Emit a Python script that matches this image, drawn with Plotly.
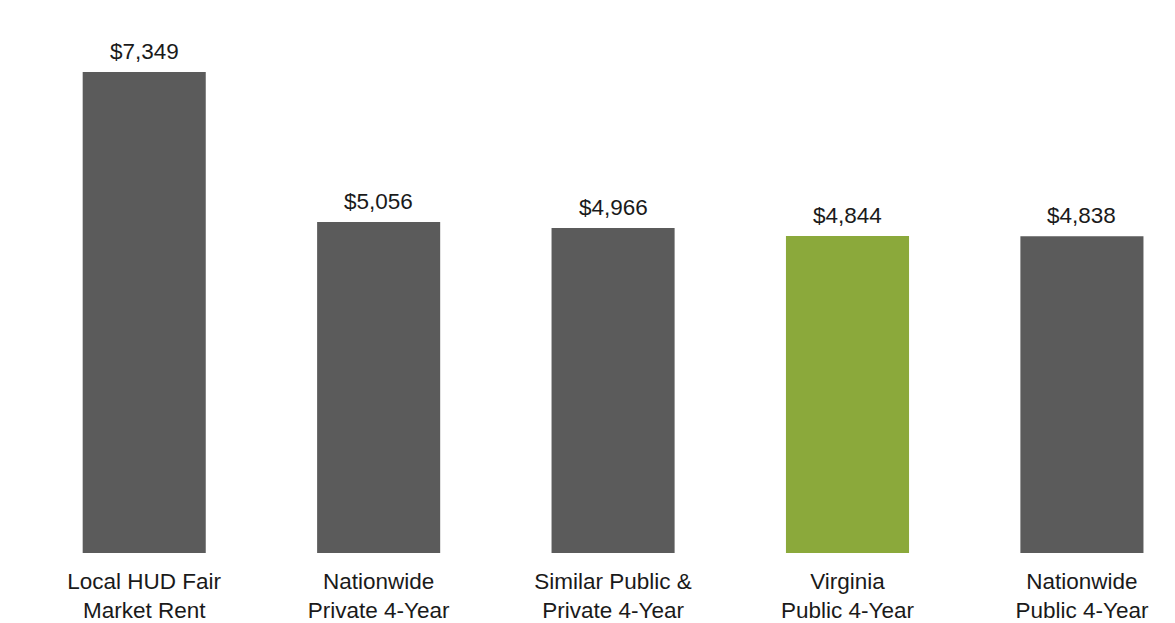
import plotly.graph_objects as go

categories = [
    "Local HUD Fair<br>Market Rent",
    "Nationwide<br>Private 4-Year",
    "Similar Public &<br>Private 4-Year",
    "Virginia<br>Public 4-Year",
    "Nationwide<br>Public 4-Year",
]
values = [7349, 5056, 4966, 4844, 4838]
value_labels = ["$7,349", "$5,056", "$4,966", "$4,844", "$4,838"]
bar_colors = ["#5b5b5b", "#5b5b5b", "#5b5b5b", "#8ba93b", "#5b5b5b"]

FONT = "Liberation Sans, Arial, sans-serif"
x_pos = list(range(len(categories)))

fig = go.Figure(
    go.Bar(
        x=x_pos,
        y=values,
        marker=dict(color=bar_colors, line=dict(width=0)),
        width=0.525,
        hoverinfo="skip",
    )
)

# value labels above each bar
for xi, v, lab in zip(x_pos, values, value_labels):
    fig.add_annotation(
        x=xi, y=v, text=lab, showarrow=False,
        yanchor="bottom", yshift=6,
        font=dict(family=FONT, size=22.5, color="#1a1a1a"),
    )

fig.update_layout(
    width=1175, height=623,
    margin=dict(l=27, r=0, t=20, b=70),
    paper_bgcolor="white", plot_bgcolor="white",
    showlegend=False,
    font=dict(family=FONT, size=22.5, color="#1a1a1a"),
    xaxis=dict(
        range=[-0.5, 4.397],
        tickmode="array", tickvals=x_pos, ticktext=categories,
        showgrid=False, zeroline=False, showline=False, ticks="",
        ticklabelstandoff=12,
        tickfont=dict(family=FONT, size=22.5, color="#1a1a1a"),
    ),
    yaxis=dict(
        range=[0, 8144], visible=False, showgrid=False, zeroline=False,
    ),
)

fig.write_html("out.html")
